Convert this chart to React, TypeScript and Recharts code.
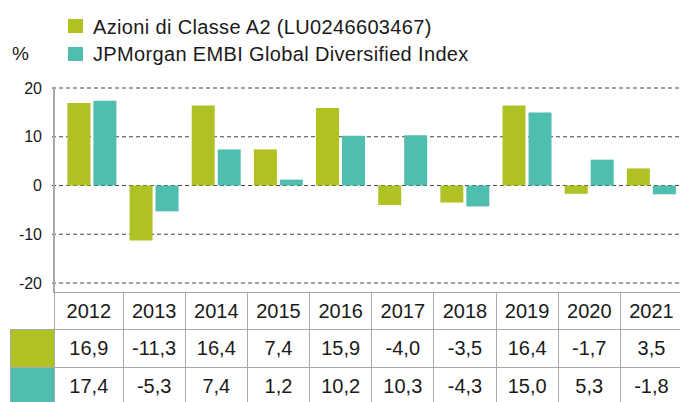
import { BarChart, Bar, XAxis, YAxis, CartesianGrid } from "recharts";

const years = ["2012", "2013", "2014", "2015", "2016", "2017", "2018", "2019", "2020", "2021"];
const fund = [16.9, -11.3, 16.4, 7.4, 15.9, -4.0, -3.5, 16.4, -1.7, 3.5];
const index = [17.4, -5.3, 7.4, 1.2, 10.2, 10.3, -4.3, 15.0, 5.3, -1.8];
const seriesNames = ["Azioni di Classe A2 (LU0246603467)", "JPMorgan EMBI Global Diversified Index"];
const seriesColors = ["#B0C223", "#4FBEAE"];
const yTicks = [-20, -10, 0, 10, 20];

const data = years.map((y, i) => ({ year: y, fund: fund[i], index: index[i] }));
const seriesValues = [fund, index];

const FONT = "'Liberation Sans', Arial, Helvetica, sans-serif";
const BORDER = "1.5px solid #a8a8a8";

const fmt = (v: number) => v.toFixed(1).replace(".", ",");

export default function App() {
  return (
    <div
      style={{
        position: "absolute",
        left: 0,
        top: 0,
        width: 680,
        height: 402,
        overflow: "hidden",
        background: "#fff",
        fontFamily: FONT,
        color: "#1a1a1a",
      }}
    >
      {/* legend */}
      {seriesNames.map((name, i) => (
        <div key={name}>
          <div
            style={{
              position: "absolute",
              left: 68,
              top: 19 + i * 28,
              width: 15,
              height: 14,
              background: seriesColors[i],
            }}
          />
          <div
            style={{
              position: "absolute",
              left: 93,
              top: 17 + i * 27,
              fontSize: 20,
              letterSpacing: 0.35,
              lineHeight: "20px",
              whiteSpace: "nowrap",
            }}
          >
            {name}
          </div>
        </div>
      ))}
      <div style={{ position: "absolute", left: 12, top: 44, fontSize: 19, lineHeight: "20px" }}>%</div>

      <BarChart
        width={690}
        height={402}
        data={data}
        margin={{ top: 88, right: 8, bottom: 119, left: 0 }}
        barSize={23}
        barGap={3}
        style={{ position: "absolute", left: 0, top: 0 }}
      >
        <CartesianGrid vertical={false} stroke="#444" strokeDasharray="4 3" strokeWidth={1.2} />
        <XAxis dataKey="year" hide padding={{ left: 8.4, right: 0 }} />
        <YAxis
          width={52}
          domain={[-20, 20]}
          ticks={yTicks}
          axisLine={false}
          tickLine={false}
          tickSize={0}
          tickMargin={10}
          tick={{ fontSize: 16, fill: "#1a1a1a", fontFamily: FONT }}
        />
        <Bar dataKey="fund" fill={seriesColors[0]} isAnimationActive={false} />
        <Bar dataKey="index" fill={seriesColors[1]} isAnimationActive={false} />
      </BarChart>

      {/* y axis line */}
      <div style={{ position: "absolute", left: 53, top: 88, width: 1.5, height: 205, background: "#a8a8a8" }} />

      {/* data table */}
      <table
        style={{
          position: "absolute",
          left: 10,
          top: 292,
          borderCollapse: "collapse",
          tableLayout: "fixed",
          width: 44 + 68.6 + 62.16 * 9,
          fontSize: 20,
          fontFamily: FONT,
          color: "#1a1a1a",
        }}
      >
        <colgroup>
          <col style={{ width: 44 }} />
          {years.map((y, i) => (
            <col key={y} style={{ width: i === 0 ? 68.6 : 62.16 }} />
          ))}
        </colgroup>
        <tbody>
          <tr style={{ height: 37 }}>
            <td style={{ border: "none", padding: 0 }} />
            {years.map((y) => (
              <td key={y} style={{ border: BORDER, textAlign: "center", padding: 0 }}>
                {y}
              </td>
            ))}
          </tr>
          {seriesValues.map((vals, r) => (
            <tr key={r} style={{ height: 38 }}>
              <td style={{ border: BORDER, background: seriesColors[r], padding: 0 }} />
              {vals.map((v, i) => (
                <td key={i} style={{ border: BORDER, textAlign: "center", padding: 0 }}>
                  {fmt(v)}
                </td>
              ))}
            </tr>
          ))}
        </tbody>
      </table>
    </div>
  );
}
